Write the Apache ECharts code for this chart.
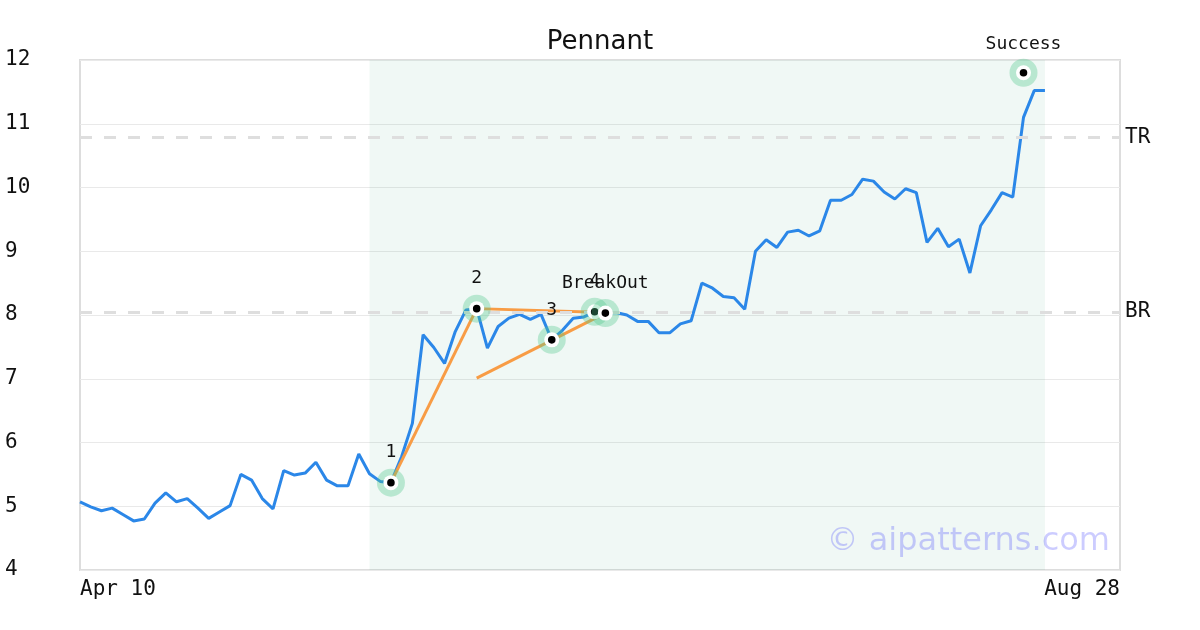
<!DOCTYPE html>
<html>
<head>
<meta charset="utf-8">
<script src="https://cdn.jsdelivr.net/npm/echarts@6/dist/echarts.min.js"></script>
<style>html,body{margin:0;padding:0;background:#fff;}#c{width:1200px;height:630px;}</style>
</head>
<body>
<div id="c"></div>
<script>
// ---- data ----
const xTickIndex = [0, 97];
const xTickLabels = ['Apr 10', 'Aug 28'];
const prices = [
  5.07, 4.99, 4.93, 4.97, 4.87, 4.77, 4.80, 5.05, 5.21, 5.07,
  5.12, 4.97, 4.81, 4.91, 5.01, 5.50, 5.41, 5.12, 4.96, 5.56,
  5.49, 5.52, 5.69, 5.41, 5.32, 5.32, 5.82, 5.51, 5.39, 5.37,
  5.78, 6.30, 7.69, 7.49, 7.24, 7.74, 8.08, 8.10, 7.48, 7.82,
  7.95, 8.01, 7.93, 8.01, 7.61, 7.76, 7.95, 7.97, 8.05, 8.03,
  8.04, 8.00, 7.90, 7.90, 7.72, 7.72, 7.86, 7.91, 8.50, 8.42,
  8.29, 8.27, 8.09, 9.00, 9.18, 9.06, 9.30, 9.33, 9.24, 9.32,
  9.80, 9.80, 9.89, 10.13, 10.10, 9.93, 9.82, 9.98, 9.92, 9.14,
  9.36, 9.07, 9.19, 8.66, 9.40, 9.65, 9.92, 9.85, 11.10, 11.52,
  11.52
];
const markerX = [29, 37, 44, 48, 49, 88];
const markerY = [5.37, 8.10, 7.61, 8.05, 8.03, 11.80];
const markerLabels = ['1', '2', '3', '4', 'BreakOut', 'Success'];
const trendLines = [
  [[29, 5.37], [37, 8.10]],
  [[37, 8.10], [49, 8.04]],
  [[37, 7.01], [49, 8.03]]
];
const levelValues = [10.79, 8.05];
const levelNames = ['TR', 'BR'];
const shadeRange = [27, 90];
const titleText = 'Pennant';
const watermark = '\u00a9 aipatterns.com';

// ---- chart ----
const chart = echarts.init(document.getElementById('c'), null, {renderer: 'canvas'});
const mono = '"DejaVu Sans Mono", monospace';

const lineData = prices.map((v, i) => [i, v]);
const markerData = markerX.map((x, i) => [x, markerY[i]]);

chart.setOption({
  animation: false,
  backgroundColor: '#fff',
  title: {
    text: titleText, left: 'center', top: 24,
    textStyle: {fontSize: 26, fontWeight: 'normal', fontFamily: '"DejaVu Sans", sans-serif', color: '#111'}
  },
  grid: {left: 80, right: 80, top: 60, bottom: 60, show: true, borderColor: '#dddddd', borderWidth: 2, backgroundColor: 'transparent'},
  xAxis: {
    type: 'value', min: 0, max: 97, interval: 97,
    axisLine: {show: false}, axisTick: {show: false}, splitLine: {show: false},
    axisLabel: {
      margin: 9, fontSize: 21, fontFamily: mono, color: '#111',
      alignMinLabel: 'left', alignMaxLabel: 'right',
      formatter: v => { const k = xTickIndex.indexOf(Math.round(v)); return k >= 0 ? xTickLabels[k] : ''; }
    }
  },
  yAxis: {
    type: 'value', min: 4, max: 12, interval: 1,
    axisLine: {show: false}, axisTick: {show: false},
    splitLine: {show: true, lineStyle: {color: '#e9e9e9', width: 1}},
    axisLabel: {margin: 75, align: 'left', fontSize: 21, fontFamily: mono, color: '#111', padding: [4, 0, 0, 0]}
  },
  graphic: [{
    type: 'text', x: 1110, y: 542, z: 100,
    style: {text: watermark, textAlign: 'right', textVerticalAlign: 'middle',
      font: '32px "DejaVu Sans", sans-serif', fill: 'rgba(0,0,255,0.2)'}
  }],
  series: [
    {
      type: 'line', data: lineData, symbol: 'none', z: 3,
      lineStyle: {color: '#2b87e8', width: 3},
      markArea: {
        silent: true,
        itemStyle: {color: 'rgba(0,140,80,0.06)'},
        data: [[{xAxis: shadeRange[0]}, {xAxis: shadeRange[1]}]]
      },
      markLine: {
        silent: true, symbol: 'none',
        lineStyle: {color: '#dedede', width: 3, type: [12, 12]},
        label: {position: 'end', distance: 5, fontSize: 21, fontFamily: mono, color: '#111', padding: [4, 0, 0, 0],
          formatter: p => levelNames[levelValues.indexOf(p.value)]},
        data: levelValues.map(v => ({yAxis: v}))
      }
    },
    {
      type: 'line', data: [], z: 4,
      markLine: {
        silent: true, symbol: 'none', z: 4,
        lineStyle: {color: '#f89c45', width: 3, type: 'solid'},
        label: {show: false},
        data: trendLines.map(seg => [{coord: seg[0]}, {coord: seg[1]}])
      }
    },
    {
      type: 'custom', z: 10, data: markerData, encode: {x: 0, y: 1},
      renderItem: function (params, api) {
        const p = api.coord([api.value(0), api.value(1)]);
        const lbl = markerLabels[params.dataIndex];
        return {
          type: 'group',
          children: [
            {type: 'circle', shape: {cx: p[0], cy: p[1], r: 14}, style: {fill: 'rgba(80,200,140,0.35)'}},
            {type: 'circle', shape: {cx: p[0], cy: p[1], r: 7.5}, style: {fill: '#ffffff'}},
            {type: 'circle', shape: {cx: p[0], cy: p[1], r: 3.8}, style: {fill: '#000000'}},
            {type: 'text', x: p[0], y: p[1] - (lbl === 'Success' ? 28 : 30),
              style: {text: lbl, textAlign: 'center', textVerticalAlign: 'middle',
                font: '18px "DejaVu Sans Mono", monospace', fill: '#111'}}
          ]
        };
      }
    }
  ]
});
</script>
</body>
</html>
